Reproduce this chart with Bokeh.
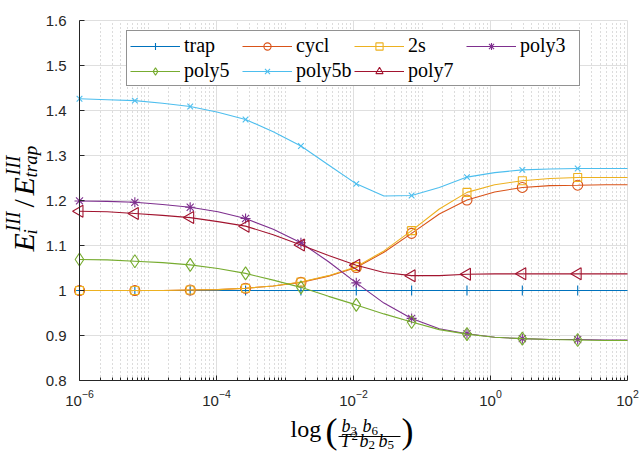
import math
from bokeh.plotting import figure
from bokeh.models import (FixedTicker, LogTickFormatter, Legend, LegendItem,
                          Label, BoxAnnotation)
from bokeh.embed import file_html
from bokeh.resources import INLINE

# ---------------- data ----------------
x_line = [1.0e-6, 2.536e-6, 6.427e-6, 1.630e-5, 4.132e-5, 1.048e-4, 2.656e-4,
          6.735e-4, 1.708e-3, 4.329e-3, 1.098e-2, 2.783e-2, 7.055e-2, 0.1788,
          0.4535, 1.150, 2.915, 7.390, 18.74, 47.51, 100.0]

trap = [1.000] * 21
cycl = [1.000, 1.000, 1.000, 1.000, 1.001, 1.002, 1.005, 1.010, 1.018, 1.032,
        1.051, 1.085, 1.127, 1.170, 1.201, 1.219, 1.229, 1.233, 1.234, 1.235, 1.235]
s2 = [1.000, 1.000, 1.000, 1.000, 1.001, 1.002, 1.005, 1.010, 1.019, 1.033,
      1.053, 1.088, 1.133, 1.181, 1.218, 1.235, 1.244, 1.249, 1.251, 1.251, 1.251]
poly3 = [1.199, 1.198, 1.196, 1.191, 1.185, 1.175, 1.160, 1.136, 1.106, 1.064,
         1.017, 0.972, 0.938, 0.915, 0.904, 0.896, 0.893, 0.891, 0.891, 0.890, 0.890]
poly5 = [1.069, 1.068, 1.065, 1.062, 1.057, 1.049, 1.038, 1.023, 1.007, 0.987,
         0.968, 0.948, 0.930, 0.913, 0.903, 0.896, 0.893, 0.891, 0.890, 0.889, 0.889]
poly5b = [1.426, 1.424, 1.422, 1.416, 1.409, 1.396, 1.380, 1.353, 1.321, 1.279,
          1.237, 1.210, 1.211, 1.229, 1.252, 1.262, 1.268, 1.270, 1.271, 1.271, 1.271]
poly7 = [1.176, 1.175, 1.171, 1.167, 1.162, 1.153, 1.143, 1.124, 1.101, 1.078,
         1.056, 1.040, 1.033, 1.033, 1.036, 1.037, 1.037, 1.037, 1.037, 1.037, 1.037]

series_names = ["trap", "cycl", "2s", "poly3", "poly5", "poly5b", "poly7"]
series_values = [trap, cycl, s2, poly3, poly5, poly5b, poly7]
series_colors = ["#0072BD", "#D95319", "#EDB120", "#7E2F8E", "#77AC30", "#4DBEEE", "#A2142F"]
series_markers = ["cross", "circle", "square", "asterisk", "diamond", "x", "triangle"]
marker_sizes = [10, 10, 8, 10, 13, 8, 12]
marker_angles = [0, 0, 0, 0, 0, 0, math.pi / 2]

x_lim = (1e-6, 1e2)
y_lim = (0.8, 1.6)
x_major_ticks = [1e-6, 1e-4, 1e-2, 1e0, 1e2]
x_minor_ticks = [m * 10.0 ** d for d in range(-6, 2) for m in range(1, 10)
                 if not (m == 1 and d % 2 == 0)]
y_ticks = [0.8, 0.9, 1.0, 1.1, 1.2, 1.3, 1.4, 1.5, 1.6]
y_tick_labels = ["0.8", "0.9", "1", "1.1", "1.2", "1.3", "1.4", "1.5", "1.6"]

# ---------------- geometry (pixels) ----------------
W, H = 640, 452
AX_L, AX_R, AX_T, AX_B = 79, 627, 20, 380      # axes box inside the canvas

lx0, lx1 = math.log10(x_lim[0]), math.log10(x_lim[1])
dec_px = (AX_R - AX_L) / (lx1 - lx0)
x_range = (10 ** (lx0 - AX_L / dec_px), 10 ** (lx1 + (W - AX_R) / dec_px))
val_px = (AX_B - AX_T) / (y_lim[1] - y_lim[0])
y_range = (y_lim[0] - (H - AX_B) / val_px, y_lim[1] + AX_T / val_px)

p = figure(width=W, height=H, x_axis_type="log", x_range=x_range, y_range=y_range,
           output_backend="svg", toolbar_location=None, title=None, min_border=0)
p.outline_line_color = None
p.background_fill_color = "white"
p.border_fill_color = "white"

xa, ya = p.xaxis[0], p.yaxis[0]
xa.fixed_location = y_lim[0]
ya.fixed_location = x_lim[0]
xa.bounds = x_lim
ya.bounds = y_lim
xa.ticker = FixedTicker(ticks=x_major_ticks, minor_ticks=x_minor_ticks)
xa.formatter = LogTickFormatter()
ya.ticker = FixedTicker(ticks=y_ticks)
ya.major_label_overrides = {v: s for v, s in zip(y_ticks, y_tick_labels)}

for ax in (xa, ya):
    ax.axis_line_color = "#262626"
    ax.major_tick_line_color = "#262626"
    ax.minor_tick_line_color = "#262626"
    ax.major_tick_in = 5
    ax.major_tick_out = 0
    ax.minor_tick_in = 3
    ax.minor_tick_out = 0
    ax.major_label_text_font = "Liberation Sans"
    ax.major_label_text_font_size = "15px"
    ax.major_label_text_color = "#262626"
ya.minor_tick_line_color = None
xa.major_label_standoff = 9
ya.major_label_standoff = 13

xg, yg = p.xgrid[0], p.ygrid[0]
xg.bounds = x_lim
yg.bounds = y_lim
xg.cross_bounds = y_lim
yg.cross_bounds = x_lim
xg.grid_line_color = "#dfdfdf"
xg.minor_grid_line_color = "#b8b8b8"
xg.minor_grid_line_dash = "1 3"
yg.grid_line_color = "#dfdfdf"

items = []
for name, vals, col, mk, ms, ang in zip(series_names, series_values, series_colors,
                                         series_markers, marker_sizes, marker_angles):
    lr = p.line(x_line, vals, line_color=col, line_width=1.1)
    xm = x_line[0:19:2]
    ym = vals[0:19:2]
    sr = p.scatter(xm, ym, marker=mk, size=ms, angle=ang, line_color=col,
                   fill_color=None, line_width=1.1)
    items.append(LegendItem(label=name, renderers=[lr, sr]))

legend = Legend(items=items, location=(126, H - 86), orientation="horizontal", ncols=4)
legend.label_text_font = "Liberation Serif"
legend.label_text_font_size = "20px"
legend.label_text_color = "black"
legend.label_standoff = 4
legend.glyph_width = 50
legend.glyph_height = 18
legend.label_height = 18
legend.label_width = 56
legend.spacing = 2
legend.padding = 3
legend.margin = 0
legend.border_line_color = "#262626"
legend.border_line_width = 1
legend.background_fill_color = "white"
legend.background_fill_alpha = 1
p.add_layout(legend, "center")


# ---------------- axis titles (composed math-like text) ----------------
MID = 0.3375   # distance from baseline to the middle of the font box, in em


def lab(text, px, py, size, style="normal", rotated=False):
    # (px, py) is the start of the text baseline in canvas pixels (y down)
    if rotated:
        ax_, ay_, ang = px - MID * size, py, math.pi / 2
    else:
        ax_, ay_, ang = px, py - MID * size, 0.0
    p.add_layout(Label(x=ax_, y=H - ay_, x_units="screen", y_units="screen",
                       text=text, angle=ang, text_font="Liberation Serif",
                       text_font_size=f"{size}px", text_font_style=style,
                       text_color="black", text_align="left",
                       text_baseline="middle"))


# y title: E_i^III / E_trap^III, reads bottom to top
lab("E", 33, 251, 30, "italic", True)
lab("III", 19, 231, 20, "italic", True)
lab("i", 36, 234, 19, "italic", True)
lab("/", 33, 207, 30, "normal", True)
lab("E", 33, 195, 30, "italic", True)
lab("III", 19, 175, 20, "italic", True)
lab("trap", 36, 177, 19, "italic", True)

# x title: log( b3 b6 / T^2 b2 b5 )
lab("log", 290, 437, 24)
lab("(", 325, 443, 36)
lab("b", 341, 432, 18, "italic")
lab("3", 350, 435, 13)
lab("b", 362, 432, 18, "italic")
lab("6", 371, 435, 13)
lab("T", 340, 447, 18, "italic")
lab("2", 351, 440, 13)
lab("b", 359, 447, 18, "italic")
lab("2", 368, 449, 13)
lab("b", 378, 447, 18, "italic")
lab("5", 387, 449, 13)
lab(")", 401, 443, 36)
p.add_layout(BoxAnnotation(left=338, right=400, top=H - 435.5, bottom=H - 436.5,
                           left_units="screen", right_units="screen",
                           top_units="screen", bottom_units="screen",
                           fill_color="black", fill_alpha=1, line_color=None))

open("out.html", "w").write(file_html(p, INLINE))
